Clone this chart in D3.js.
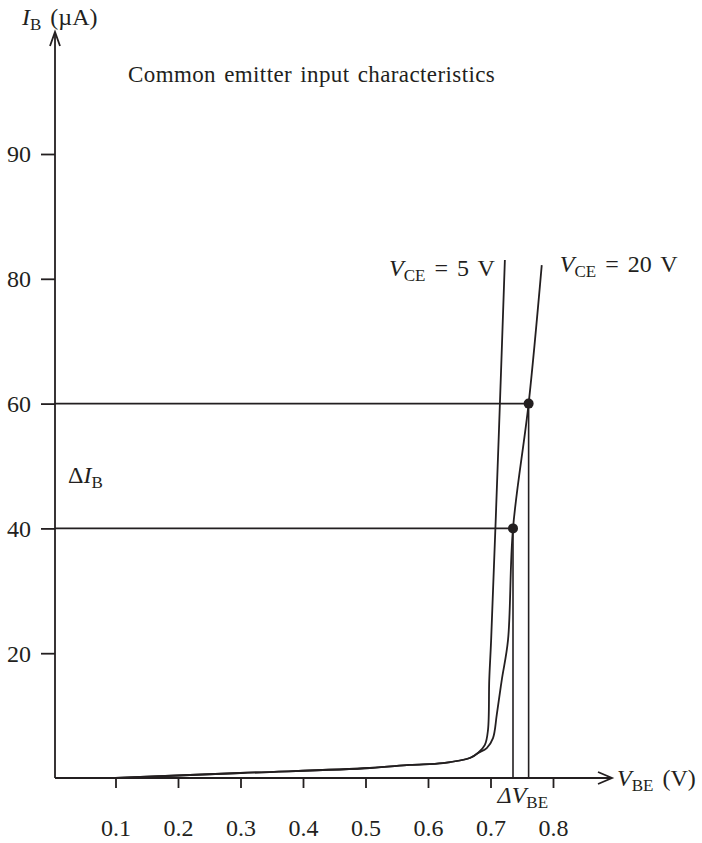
<!DOCTYPE html>
<html>
<head>
<meta charset="utf-8">
<script src="https://cdn.jsdelivr.net/npm/d3@7"></script>
<style>
  body { margin: 0; background: #fff; }
  text { font-family: "Liberation Serif", "Times New Roman", serif; fill: #231f20; }
</style>
</head>
<body>
<div id="graphic"></div>
<script>
// data
const xTicks = [0.1, 0.2, 0.3, 0.4, 0.5, 0.6, 0.7, 0.8];
const xTickLabels = ["0.1", "0.2", "0.3", "0.4", "0.5", "0.6", "0.7", "0.8"];
const yTicks = [20, 40, 60, 80, 100];
const yTickLabels = ["20", "40", "60", "80", "90"]; // top label is printed "90" in the original

// V_CE = 5 V curve
const vce5V = [0.10, 0.30, 0.507, 0.571, 0.624, 0.667, 0.680, 0.691, 0.696, 0.698, 0.701, 0.713, 0.723];
const vce5I = [0, 0.8, 1.6, 2.1, 2.4, 3.2, 4.0, 5.3, 7.7, 15.7, 22.1, 54.2, 83];

// V_CE = 20 V curve
const vce20V = [0.10, 0.30, 0.507, 0.571, 0.624, 0.667, 0.680, 0.694, 0.704, 0.710, 0.718, 0.728, 0.736, 0.761, 0.782];
const vce20I = [0, 0.8, 1.6, 2.1, 2.4, 3.2, 4.0, 4.8, 6.4, 10.1, 15.7, 22.1, 40, 60, 82.2];

// operating points on the 20 V curve
const dotV = [0.736, 0.761];
const dotI = [40, 60];

const width = 702, height = 843;
const ink = "#231f20";
const fontSize = 24;

const svg = d3.select("#graphic")
    .append("svg")
    .attr("width", width)
    .attr("height", height);

const x = d3.scaleLinear().domain([0, 0.8]).range([53, 553]);
const y = d3.scaleLinear().domain([0, 100]).range([778, 154]);

const axisX = 55;          // where the vertical axis sits
const axisY = y(0);

// x axis
const gx = svg.append("g")
    .attr("transform", `translate(0, ${axisY})`)
    .call(d3.axisBottom(x)
        .tickValues(xTicks)
        .tickFormat((d, i) => xTickLabels[i])
        .tickSize(10)
        .tickPadding(31)
        .tickSizeOuter(0));
gx.select(".domain").remove();

// y axis
const gy = svg.append("g")
    .attr("transform", `translate(${axisX}, 0)`)
    .call(d3.axisLeft(y)
        .tickValues(yTicks)
        .tickFormat((d, i) => yTickLabels[i])
        .tickSize(14)
        .tickPadding(10)
        .tickSizeOuter(0));
gy.select(".domain").remove();

svg.selectAll(".tick line").attr("stroke", ink).attr("stroke-width", 1.8);
svg.selectAll(".tick text")
    .style("font-family", '"Liberation Serif", "Times New Roman", serif')
    .style("font-size", fontSize + "px")
    .attr("fill", ink);
gy.selectAll(".tick text").attr("dy", "0.33em");

// axis lines with open arrow heads
const xEnd = 612, yTop = 32;
svg.append("line")
    .attr("x1", axisX).attr("x2", xEnd)
    .attr("y1", axisY).attr("y2", axisY)
    .attr("stroke", ink).attr("stroke-width", 1.8);
svg.append("line")
    .attr("x1", axisX).attr("x2", axisX)
    .attr("y1", axisY).attr("y2", yTop)
    .attr("stroke", ink).attr("stroke-width", 1.8);
svg.append("path")
    .attr("d", `M${xEnd - 14},${axisY - 6}L${xEnd},${axisY}L${xEnd - 14},${axisY + 6}`)
    .attr("fill", "none").attr("stroke", ink).attr("stroke-width", 1.8);
svg.append("path")
    .attr("d", `M${axisX - 5},${yTop + 14}L${axisX},${yTop}L${axisX + 5},${yTop + 14}`)
    .attr("fill", "none").attr("stroke", ink).attr("stroke-width", 1.8);

// guide lines to the operating points
dotV.forEach((v, i) => {
    svg.append("line")
        .attr("x1", axisX).attr("x2", x(v))
        .attr("y1", y(dotI[i])).attr("y2", y(dotI[i]))
        .attr("stroke", ink).attr("stroke-width", 1.6);
    svg.append("line")
        .attr("x1", x(v)).attr("x2", x(v))
        .attr("y1", y(dotI[i])).attr("y2", axisY)
        .attr("stroke", ink).attr("stroke-width", 1.6);
});

// the two curves
const line = d3.line()
    .x(d => x(d[0]))
    .y(d => y(d[1]))
    .curve(d3.curveCatmullRom.alpha(0.5));

svg.append("path")
    .datum(d3.zip(vce5V, vce5I))
    .attr("d", line)
    .attr("fill", "none").attr("stroke", ink).attr("stroke-width", 1.8);

svg.append("path")
    .datum(d3.zip(vce20V, vce20I))
    .attr("d", line)
    .attr("fill", "none").attr("stroke", ink).attr("stroke-width", 1.8);

svg.selectAll("circle.pt")
    .data(d3.zip(dotV, dotI))
    .join("circle")
    .attr("class", "pt")
    .attr("cx", d => x(d[0]))
    .attr("cy", d => y(d[1]))
    .attr("r", 5)
    .attr("fill", ink);

// labels
function label(tx, ty, parts, anchor) {
    const t = svg.append("text")
        .attr("x", tx).attr("y", ty)
        .attr("text-anchor", anchor || "start")
        .style("font-size", fontSize + "px")
        .style("word-spacing", "3px");
    parts.forEach(p => {
        const s = t.append("tspan").text(p.t);
        if (p.i) s.style("font-style", "italic");
        if (p.sub) s.style("font-size", "17px").attr("dy", 5);
        if (p.up) s.attr("dy", -5);
    });
    return t;
}

label(22, 25, [{t: "I", i: true}, {t: "B", sub: true}, {t: " (\u00b5A)", up: true}]);
label(617, 786, [{t: "V", i: true}, {t: "BE", sub: true}, {t: " (V)", up: true}]);

svg.append("text")
    .attr("x", 128).attr("y", 82)
    .style("font-size", "23px")
    .style("letter-spacing", "0.4px")
    .style("word-spacing", "2px")
    .text("Common emitter input characteristics");

const top5 = vce5V.length - 1, top20 = vce20V.length - 1;
label(x(vce5V[top5]) - 10, y(80.5), [{t: "V", i: true}, {t: "CE", sub: true}, {t: " = 5 V", up: true}], "end");
label(x(vce20V[top20]) + 18, y(81.1), [{t: "V", i: true}, {t: "CE", sub: true}, {t: " = 20 V", up: true}]);

label(68, 483, [{t: "\u0394"}, {t: "I", i: true}, {t: "B", sub: true}]);
label((x(dotV[0]) + x(dotV[1])) / 2 + 2, 803,
    [{t: "\u0394V", i: true}, {t: "BE", sub: true}], "middle");
</script>
</body>
</html>
